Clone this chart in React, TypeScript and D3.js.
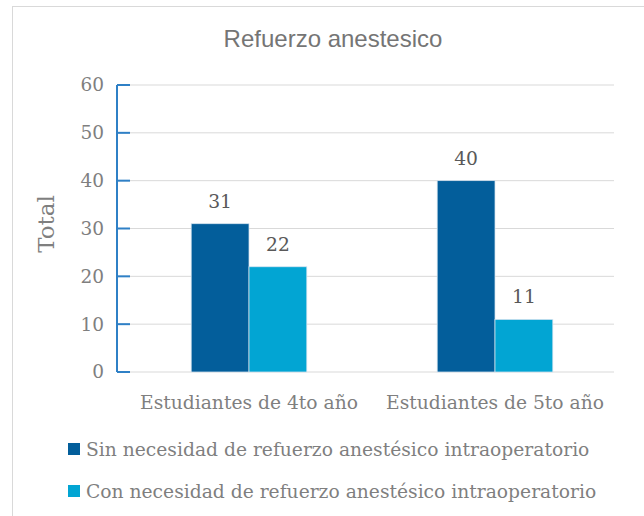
import React from "react";
import * as d3 from "d3";

const categories = ["Estudiantes de 4to año", "Estudiantes de 5to año"];
const seriesNames = [
  "Sin necesidad de refuerzo anestésico intraoperatorio",
  "Con necesidad de refuerzo anestésico intraoperatorio",
];
const sinValues = [31, 40];
const conValues = [22, 11];
const yTicks = [0, 10, 20, 30, 40, 50, 60];

const colors = ["#035E9B", "#02A5D3"];
const serif = "'DejaVu Serif', serif";

export default function App() {
  const width = 644;
  const height = 516;
  const margin = { top: 85, right: 30, bottom: 144, left: 117 };
  const plotRight = 614;

  const y = d3.scaleLinear().domain([0, 60]).range([height - margin.bottom, margin.top]);
  const x0 = d3.scaleBand().domain(categories).range([126, 618]).paddingInner(0.53).paddingOuter(0.265);
  const x1 = d3.scaleBand().domain(["sin", "con"]).range([0, x0.bandwidth()]);

  const rows = categories.map((c, i) => ({
    cat: c,
    vals: [
      { key: "sin", v: sinValues[i] },
      { key: "con", v: conValues[i] },
    ],
  }));

  return (
    <svg
      width={width}
      height={height}
      style={{ position: "absolute", left: 0, top: 0, background: "#fff" }}
    >
      <rect x={12.5} y={6.5} width={660} height={540} fill="#fff" stroke="#D9D9D9" />
      <text x={333} y={47} textAnchor="middle" fontFamily="'Liberation Sans', Arial, sans-serif" fontSize={24} fill="#757575">
        Refuerzo anestesico
      </text>

      {/* gridlines */}
      {yTicks.map((t) => (
        <line key={t} x1={margin.left} x2={plotRight} y1={y(t)} y2={y(t)} stroke="#D9D9D9" strokeWidth={1} />
      ))}

      {/* bars */}
      {rows.map((r) => (
        <g key={r.cat} transform={`translate(${x0(r.cat)},0)`}>
          {r.vals.map((d, j) => (
            <g key={d.key}>
              <rect
                x={x1(d.key)}
                y={y(d.v)}
                width={x1.bandwidth()}
                height={y(0) - y(d.v)}
                fill={colors[j]}
                stroke="#D6E4F0"
                strokeWidth={0.75}
              />
              <text
                x={(x1(d.key) as number) + x1.bandwidth() / 2}
                y={y(d.v) - 16}
                textAnchor="middle"
                fontFamily={serif}
                fontSize={18.7}
                fill="#595959"
              >
                {d.v}
              </text>
            </g>
          ))}
        </g>
      ))}

      {/* y axis */}
      <line x1={margin.left} x2={margin.left} y1={y(60)} y2={y(0)} stroke="#2F80C6" strokeWidth={2} />
      {yTicks.map((t) => (
        <g key={t}>
          <line x1={margin.left} x2={margin.left + 13} y1={y(t)} y2={y(t)} stroke="#2F80C6" strokeWidth={2} />
          <text x={104} y={y(t)} dy="0.35em" textAnchor="end" fontFamily={serif} fontSize={18.5} fill="#7F7F7F">
            {t}
          </text>
        </g>
      ))}

      {/* x labels */}
      {categories.map((c) => (
        <text
          key={c}
          x={(x0(c) as number) + x0.bandwidth() / 2}
          y={409}
          textAnchor="middle"
          fontFamily={serif}
          fontSize={18.7}
          fill="#7F7F7F"
        >
          {c}
        </text>
      ))}

      <text
        transform={`translate(54,224) rotate(-90)`}
        textAnchor="middle"
        fontFamily={serif}
        fontSize={23}
        fill="#7F7F7F"
      >
        Total
      </text>

      {/* legend */}
      {seriesNames.map((s, i) => (
        <g key={s} transform={`translate(68,${443 + i * 42})`}>
          <rect width={12} height={12} fill={colors[i]} />
          <text x={18} y={6} dy="0.35em" fontFamily={serif} fontSize={18.7} fill="#7F7F7F">
            {s}
          </text>
        </g>
      ))}
    </svg>
  );
}
